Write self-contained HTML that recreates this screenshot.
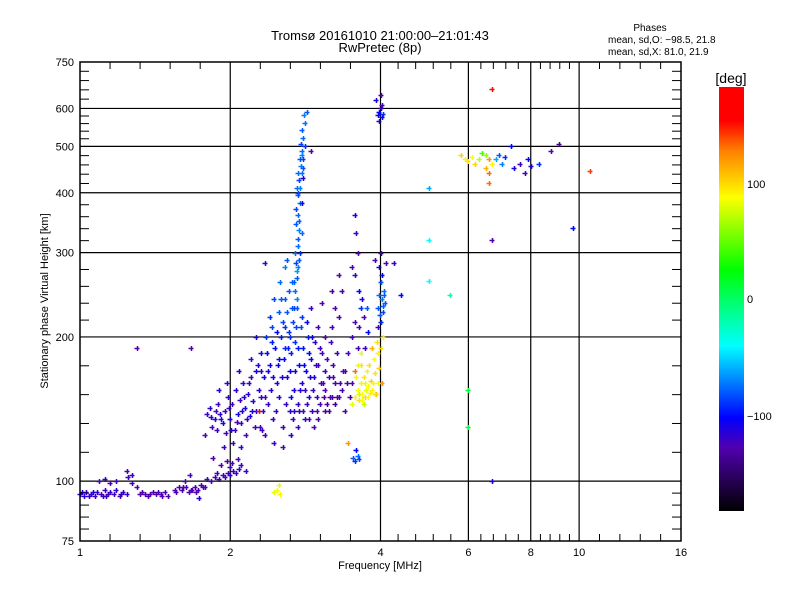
<!DOCTYPE html>
<html><head><meta charset="utf-8"><style>
body{margin:0;background:#fff}
svg{display:block;font-family:"Liberation Sans",sans-serif}
</style></head><body>
<svg id="chart" width="800" height="600" viewBox="0 0 800 600">
<defs><linearGradient id="cb" x1="0" y1="1" x2="0" y2="0">
<stop offset="0" stop-color="#000"/><stop offset="0.15" stop-color="#5000b0"/><stop offset="0.22" stop-color="#0000ff"/><stop offset="0.39" stop-color="#00ffff"/><stop offset="0.57" stop-color="#00ff00"/><stop offset="0.74" stop-color="#ffff00"/><stop offset="0.85" stop-color="#ff8000"/><stop offset="0.92" stop-color="#ff0000"/><stop offset="1" stop-color="#ff0000"/></linearGradient></defs>
<text x="380" y="40" text-anchor="middle" font-size="13">Tromsø 20161010 21:00:00–21:01:43</text>
<text x="380" y="52" text-anchor="middle" font-size="13">RwPretec (8p)</text>
<text x="650" y="31" text-anchor="middle" font-size="10">Phases</text>
<text x="608" y="43" font-size="10">mean, sd,O: −98.5, 21.8</text>
<text x="608" y="55" font-size="10">mean, sd,X:  81.0, 21.9</text>
<g id="grid"></g>
<g id="marks"></g>
<rect x="80" y="62" width="601" height="479" fill="none" stroke="#000" stroke-width="1.5"/>
<g id="ticks"></g>
<text x="380" y="569" text-anchor="middle" font-size="11">Frequency [MHz]</text>
<text transform="translate(48,301) rotate(-90)" text-anchor="middle" font-size="11">Stationary phase Virtual Height [km]</text>
<rect x="719" y="87" width="25" height="424" fill="url(#cb)"/>
<text x="731" y="83" text-anchor="middle" font-size="14">[deg]</text>
<text x="747" y="188" font-size="11">100</text>
<text x="747" y="303" font-size="11">0</text>
<text x="747" y="420" font-size="11">−100</text>
</svg>
<script>
const xMajor=[1,2,4,6,8,10,16];
const xLabels=["1","2","4","6","8","10","16"];
const yMajor=[75,100,200,300,400,500,600,750];
const yLabels=["75","100","200","300","400","500","600","750"];
const baseline=[[1.00,94,-115],[1.02,93,-115],[1.03,95,-120],[1.05,94,-115],[1.07,93,-120],[1.08,95,-115],[1.10,94,-123],[1.12,96,-120],[1.13,93,-115],[1.15,95,-115],[1.17,94,-120],[1.18,96,-115],[1.20,93,-123],[1.22,95,-120],[1.24,94,-115],[1.25,102,-120],[1.27,99,-120],[1.30,97,-125],[1.32,94,-127],[1.35,94,-127],[1.37,93,-127],[1.40,95,-127],[1.42,94,-127],[1.45,94,-123],[1.48,95,-127],[1.50,93,-127],[1.18,100,-120],[1.15,99,-125],[1.12,101,-115],[1.09,100,-120],[1.27,103,-120],[1.24,105,-123],[1.01,95,-112],[1.04,93,-118],[1.06,95,-112],[1.11,93,-120],[1.14,94,-124],[1.21,94,-118],[1.33,95,-127],[1.38,94,-126],[1.43,95,-127],[1.46,93,-126]];
const rise=[[1.55,96,-127],[1.58,97,-127],[1.60,96,-127],[1.63,97,-123],[1.65,95,-127],[1.68,96,-127],[1.70,97,-127],[1.72,96,-123],[1.75,98,-123],[1.78,97,-127],[1.62,100,-127],[1.66,103,-127],[1.80,101,-123],[1.83,100,-120],[1.86,102,-120],[1.88,104,-123],[1.90,101,-120],[1.93,103,-120],[1.95,102,-123],[1.98,104,-120],[2.00,103,-115],[2.03,105,-120],[2.05,104,-120],[2.08,106,-115],[2.10,108,-120],[1.92,108,-127],[1.97,110,-127],[2.02,109,-123],[2.07,111,-127],[1.85,112,-130],[2.00,107,-120],[1.73,92,-110],[1.56,95,-127],[1.61,97,-126],[1.67,96,-127],[1.71,95,-126],[1.76,97,-127]];
const lowPatch=[[1.80,138,-120],[1.82,142,-115],[1.84,130,-123],[1.86,135,-110],[1.88,128,-120],[1.89,145,-120],[1.91,138,-115],[1.93,132,-110],[1.95,140,-120],[1.96,126,-123],[1.98,150,-115],[2.00,135,-110],[2.02,145,-120],[2.04,128,-123],[2.05,155,-115],[2.07,138,-110],[2.09,148,-120],[2.10,132,-120],[2.12,160,-115],[2.14,142,-110],[2.15,125,-125],[2.17,152,-115],[2.19,137,-110],[2.20,165,-120],[2.22,147,-115],[2.24,130,-123],[2.25,170,-105],[1.90,155,-115],[1.94,118,-120],[2.03,120,-127],[1.78,125,-127],[2.10,118,-120],[1.97,160,-115],[2.08,170,-110],[1.83,136,-112],[1.87,140,-125],[1.92,135,-112],[1.99,142,-118],[2.01,128,-112],[2.06,133,-125],[2.11,140,-112],[2.16,135,-118],[2.21,140,-110],[2.13,150,-112],[2.18,160,-118]];
const broad=[[2.25,140,-110],[2.28,155,-115],[2.30,185,-110],[2.32,128,-120],[2.34,165,-105],[2.36,200,-90],[2.38,145,-115],[2.40,175,-105],[2.42,210,-85],[2.44,135,-120],[2.46,190,-100],[2.48,160,-110],[2.50,225,-80],[2.51,150,-115],[2.53,200,-95],[2.55,130,-120],[2.56,180,-100],[2.58,240,-80],[2.60,165,-110],[2.62,205,-90],[2.63,140,-115],[2.65,185,-95],[2.67,215,-85],[2.68,155,-110],[2.70,195,-90],[2.72,230,-80],[2.73,145,-115],[2.75,175,-100],[2.77,210,-85],[2.78,160,-110],[2.80,190,-95],[2.82,135,-120],[2.84,170,-100],[2.86,200,-95],[2.88,150,-115],[2.90,180,-105],[2.92,140,-120],[2.94,165,-110],[2.96,195,-115],[2.98,150,-120],[3.00,175,-120],[3.02,145,-123],[3.04,160,-125],[3.06,185,-120],[3.08,150,-127],[3.10,170,-120],[3.12,145,-130],[3.15,165,-120],[3.18,195,-123],[3.20,150,-130],[3.22,175,-123],[3.25,160,-127],[3.28,185,-120],[3.30,150,-130],[2.35,125,-120],[2.45,120,-120],[2.55,118,-125],[2.65,125,-115],[2.40,220,-90],[2.52,260,-75],[2.57,280,-70],[2.62,250,-80],[2.45,240,-85],[2.30,170,-115],[2.60,290,-80],[2.48,205,-100],[2.70,170,-110],[2.85,215,-100],[3.0,210,-123],[3.1,200,-127],[3.2,210,-123],[2.9,230,-120],[3.05,235,-127],[2.75,140,-120],[2.95,130,-127],[3.15,140,-135],[3.25,145,-135],[2.85,145,-120],[2.65,150,-100],[2.35,150,-125],[2.20,180,-120],[2.25,200,-110],[3.4,170,-127],[3.45,185,-123],[3.5,200,-120],[3.35,155,-127],[3.5,160,-127],[3.4,140,-127],[3.55,215,-127],[3.6,190,-123],[3.3,270,-127],[3.2,250,-130]];
const broadFill=[[2.27,175,-112],[2.31,150,-118],[2.37,185,-100],[2.41,155,-115],[2.43,195,-95],[2.47,140,-118],[2.49,175,-105],[2.54,165,-110],[2.57,210,-90],[2.59,145,-118],[2.61,190,-95],[2.64,170,-105],[2.66,230,-80],[2.69,140,-118],[2.71,210,-85],[2.74,190,-95],[2.76,155,-112],[2.79,220,-88],[2.81,175,-105],[2.83,155,-118],[2.87,185,-100],[2.89,165,-112],[2.91,200,-105],[2.93,155,-120],[2.97,175,-118],[2.99,140,-125],[3.03,190,-120],[3.07,160,-124],[3.09,140,-128],[3.13,180,-122],[3.17,150,-128],[3.21,165,-126],[3.27,150,-130],[3.32,160,-128],[2.53,240,-80],[2.55,215,-85],[2.60,225,-80],[2.66,260,-75],[2.64,200,-90],[2.58,190,-92],[2.50,180,-100],[2.44,165,-108],[2.38,170,-110],[2.33,140,-120],[2.29,130,-122],[2.67,135,-118],[2.73,130,-120],[2.80,140,-122],[2.87,135,-124],[3.0,135,-128],[3.1,155,-126],[3.36,170,-126],[3.42,160,-128],[3.47,150,-130]];
const tower=[[2.70,250,-75],[2.72,265,-80],[2.74,280,-70],[2.70,300,-75],[2.73,320,-80],[2.75,335,-70],[2.71,345,-80],[2.74,360,-75],[2.76,380,-70],[2.73,395,-80],[2.72,410,-75],[2.75,425,-85],[2.74,440,-75],[2.77,455,-70],[2.76,470,-80],[2.78,490,-75],[2.77,505,-85],[2.80,520,-75],[2.79,540,-80],[2.82,560,-75],[2.81,580,-70],[2.85,590,-80],[2.69,230,-85],[2.72,240,-70],[2.76,300,-90],[2.78,330,-75],[2.71,370,-85],[2.76,410,-70],[2.80,450,-80],[2.79,480,-70],[2.82,500,-90],[2.90,490,-127],[2.75,290,-80],[2.73,310,-75],[2.72,275,-65],[2.79,380,-110],[2.80,430,-110],[2.68,260,-80],[2.71,285,-85],[2.75,350,-80],[2.74,400,-85],[2.78,440,-75],[2.80,470,-85]];
const midUpper=[[3.55,270,-120],[3.6,300,-127],[3.58,330,-120],[3.56,360,-110],[3.62,250,-100],[3.65,230,-90],[3.68,240,-110],[3.62,210,-120],[3.70,220,-127],[3.75,230,-80],[3.78,205,-100],[3.72,190,-120],[3.3,220,-127],[3.35,250,-130],[3.25,230,-127]];
const nearFour=[[3.95,230,-80],[3.98,245,-75],[4.00,260,-80],[4.02,240,-70],[4.05,225,-85],[3.97,280,-110],[4.00,300,-120],[4.03,270,-100],[4.06,250,-75],[3.96,210,-120],[4.01,215,-90],[4.08,235,-80],[3.9,290,-127],[4.1,285,-127],[4.25,285,-120],[4.4,245,-100],[3.5,280,-127],[4.04,232,-78],[3.99,222,-82],[4.07,245,-80]];
const xMode=[[3.55,150,90],[3.60,155,85],[3.62,148,95],[3.65,160,90],[3.68,152,85],[3.70,165,95],[3.72,150,100],[3.75,170,90],[3.78,158,85],[3.80,175,95],[3.82,162,100],[3.85,155,90],[3.88,180,85],[3.90,168,95],[3.92,152,110],[3.95,185,90],[3.97,172,100],[4.00,190,95],[4.02,160,120],[4.05,200,90],[3.50,145,80],[3.58,165,90],[3.66,175,95],[3.74,155,80],[3.84,190,110],[3.93,195,95],[3.70,145,70],[3.60,175,80],[3.65,185,80],[3.55,170,130],[3.63,152,75],[3.67,148,85],[3.77,150,88],[3.81,153,92],[3.87,160,88],[3.90,152,95],[3.95,160,85],[3.72,160,80]];
const lowBlobs=[[3.52,112,-80],[3.56,110,-90],[3.60,113,-75],[3.63,111,-85],[3.58,116,-100],[3.45,120,120],[2.45,95,80],[2.48,96,85],[2.52,94,90],[2.50,98,80]];
const topFour=[[3.95,580,-110],[3.98,590,-100],[4.00,600,-120],[4.02,575,-100],[4.05,585,-90],[3.97,565,-110],[4.03,610,-120],[3.92,625,-110],[4.0,640,-127]];
const highBand=[[5.8,480,100],[5.9,470,90],[6.0,465,95],[6.1,475,85],[6.2,460,100],[6.3,470,70],[6.4,485,40],[6.5,480,60],[6.6,470,120],[6.7,460,90],[6.5,450,110],[6.6,440,130],[6.8,470,-60],[6.9,480,-80],[7.0,460,-70],[7.1,475,-90],[7.4,450,-110],[7.6,460,-120],[7.8,440,-120],[8.0,455,-110],[7.9,470,-100],[8.3,460,-90],[8.8,490,-127],[9.1,505,-135],[6.7,660,150],[6.6,420,130],[7.3,500,-100]];
const scattered=[[1.3,190,-127],[1.67,190,-127],[10.5,445,140],[9.7,338,-100],[6.7,318,-127],[6.7,100,-110],[6.0,155,10],[6.0,130,10],[5.0,410,-60],[5.0,318,-40],[5.0,262,-40],[5.5,245,-20],[2.15,105,-120],[2.35,285,-120],[2.28,140,150]];

const X0=80,X1=681,Y0=541,Y1=62;
function xs(f){return X0+Math.log2(f)/4*(X1-X0);}
function ys(h){return Y0-Math.log10(h/75)*(Y0-Y1);}
const stops=[[0,[0,0,0]],[0.15,[80,0,176]],[0.22,[0,0,255]],[0.39,[0,255,255]],[0.57,[0,255,0]],[0.74,[255,255,0]],[0.85,[255,128,0]],[0.92,[255,0,0]],[1,[255,0,0]]];
function col(p){let t=Math.max(0,Math.min(1,(p+180)/360));
 for(let i=1;i<stops.length;i++){if(t<=stops[i][0]){const a=stops[i-1],b=stops[i],u=(t-a[0])/(b[0]-a[0]||1);
 return 'rgb('+a[1].map((v,k)=>Math.round(v+(b[1][k]-v)*u)).join(',')+')';}}return 'red';}
const NS='http://www.w3.org/2000/svg';
function mk(tag,at,parent){const e=document.createElementNS(NS,tag);for(const k in at)e.setAttribute(k,at[k]);parent.appendChild(e);return e;}
const grid=document.getElementById('grid'),ticks=document.getElementById('ticks'),marks=document.getElementById('marks');
xMajor.forEach((v,i)=>{const x=xs(v);
 if(i>0&&i<xMajor.length-1){const g=mk('line',{x1:x,x2:x,y1:Y1,y2:Y0,stroke:'#000','stroke-width':1.2},grid);
 
 }
 const t=mk('text',{x:x,y:556,'text-anchor':'middle','font-size':11},ticks);t.textContent=xLabels[i];
 
 
 if(i<xMajor.length-1){const a=Math.log2(v),b=Math.log2(xMajor[i+1]);
 for(let k=1;k<5;k++){const xx=xs(Math.pow(2,a+(b-a)*k/5));
 mk('line',{x1:xx,x2:xx,y1:Y0,y2:Y0-7,stroke:'#000'},ticks);mk('line',{x1:xx,x2:xx,y1:Y1,y2:Y1+7,stroke:'#000'},ticks);}}
});
yMajor.forEach((v,i)=>{const y=ys(v);
 if(i>0&&i<yMajor.length-1){const g=mk('line',{x1:X0,x2:X1,y1:y,y2:y,stroke:'#000','stroke-width':1.2},grid);
 
 }
 const t=mk('text',{x:74,y:y+4,'text-anchor':'end','font-size':11},ticks);t.textContent=yLabels[i];
 
 
 if(i<yMajor.length-1){const a=Math.log10(v),b=Math.log10(yMajor[i+1]);
 for(let k=1;k<5;k++){const yy=ys(Math.pow(10,a+(b-a)*k/5));
 mk('line',{x1:X0,x2:X0+9,y1:yy,y2:yy,stroke:'#000'},ticks);mk('line',{x1:X1,x2:X1-9,y1:yy,y2:yy,stroke:'#000'},ticks);}}
});
[baseline,rise,lowPatch,broad,broadFill,tower,midUpper,nearFour,xMode,lowBlobs,topFour,highBand,scattered].forEach(arr=>arr.forEach(d=>{
 const x=Math.round(xs(d[0])),y=Math.round(ys(d[1])),c=col(d[2]);
 const p=mk('path',{d:'M'+(x-2.5)+' '+(y+0.5)+'h5M'+(x+0.5)+' '+(y-2)+'v5',stroke:c,'stroke-width':1.5,fill:'none'},marks);
 
 
}));
</script>
</body></html>
